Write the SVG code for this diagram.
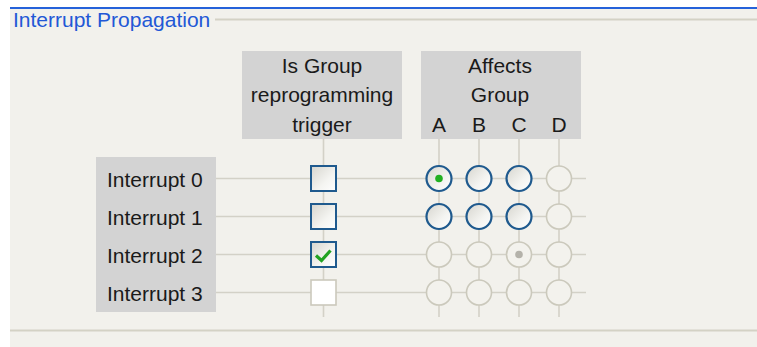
<svg xmlns="http://www.w3.org/2000/svg" width="757" height="347" viewBox="0 0 757 347">
  <style>
    text { font-family: "Liberation Sans", Arial, sans-serif; font-size: 21px; fill: #1a1a1a; }
    .title { fill: #2258d6; }
    .hdr { fill: #d3d3d3; }
    .wire { stroke: #d3d1c7; stroke-width: 1.6; fill: none; }
    .cb-on { fill: url(#gfill); stroke: #1f5a8e; stroke-width: 2; }
    .cb-off { fill: #ffffff; stroke: #cbc9bc; stroke-width: 1.6; }
    .rb-on { fill: url(#gfill); stroke: #1f5a8e; stroke-width: 2.2; }
    .rb-off { fill: #f3f2ed; stroke: #cbc9bc; stroke-width: 1.6; }
  </style>
  <defs>
    <linearGradient id="gfill" x1="0" y1="0" x2="1" y2="1">
      <stop offset="0" stop-color="#d6d5ce"/>
      <stop offset="0.6" stop-color="#f4f4f1"/>
      <stop offset="1" stop-color="#ffffff"/>
    </linearGradient>
  </defs>

  <!-- background -->
  <rect x="0" y="0" width="757" height="347" fill="#ffffff"/>
  <rect x="10" y="8" width="747" height="339" fill="#f2f1ec"/>
  <line x1="10" y1="8" x2="757" y2="8" stroke="#2562da" stroke-width="2"/>
  <line x1="215" y1="19.5" x2="757" y2="19.5" stroke="#d4d2c5" stroke-width="2"/>
  <line x1="10" y1="330.5" x2="757" y2="330.5" stroke="#d4d2c5" stroke-width="2"/>
  <text class="title" x="13" y="27">Interrupt Propagation</text>

  <!-- connectors -->
  <g id="connectors" class="wire">
    <line x1="216" y1="178.5" x2="586" y2="178.5"/>
    <line x1="216" y1="216.5" x2="586" y2="216.5"/>
    <line x1="216" y1="254.5" x2="586" y2="254.5"/>
    <line x1="216" y1="292.5" x2="586" y2="292.5"/>
    <line x1="323.5" y1="139" x2="323.5" y2="317"/>
    <line x1="439" y1="139" x2="439" y2="317"/>
    <line x1="479" y1="139" x2="479" y2="317"/>
    <line x1="519" y1="139" x2="519" y2="317"/>
    <line x1="559" y1="139" x2="559" y2="317"/>
  </g>

  <!-- headers -->
  <g id="header-trigger">
    <rect class="hdr" x="242" y="51" width="160" height="88"/>
    <text x="322" y="72.5" text-anchor="middle">Is Group</text>
    <text x="322" y="102" text-anchor="middle">reprogramming</text>
    <text x="322" y="132" text-anchor="middle">trigger</text>
  </g>
  <g id="header-affects">
    <rect class="hdr" x="421" y="51" width="160" height="88"/>
    <text x="500" y="72.5" text-anchor="middle">Affects</text>
    <text x="500" y="102" text-anchor="middle">Group</text>
    <text x="439" y="132" text-anchor="middle">A</text>
    <text x="479" y="132" text-anchor="middle">B</text>
    <text x="519" y="132" text-anchor="middle">C</text>
    <text x="559" y="132" text-anchor="middle">D</text>
  </g>

  <!-- row labels -->
  <g id="row-labels">
    <rect class="hdr" x="96" y="157" width="120" height="155"/>
    <text x="107" y="186.5">Interrupt 0</text>
    <text x="107" y="224.5">Interrupt 1</text>
    <text x="107" y="262.5">Interrupt 2</text>
    <text x="107" y="300.5">Interrupt 3</text>
  </g>

  <!-- checkboxes -->
  <g id="trigger-0"><rect class="cb-on" x="311" y="166" width="25" height="25"/></g>
  <g id="trigger-1"><rect class="cb-on" x="311" y="204" width="25" height="25"/></g>
  <g id="trigger-2">
    <rect class="cb-on" x="311" y="242" width="25" height="25"/>
    <polyline points="316,255.5 321.5,260.5 330.5,250.5" fill="none" stroke="#22a322" stroke-width="3.2" stroke-linejoin="miter"/>
  </g>
  <g id="trigger-3"><rect class="cb-off" x="311" y="280" width="25" height="25"/></g>

  <!-- radio row 0 -->
  <g id="r0-A"><circle class="rb-on" cx="439" cy="178.5" r="12.5"/><circle cx="439" cy="178.5" r="3.8" fill="#22b022"/></g>
  <g id="r0-B"><circle class="rb-on" cx="479" cy="178.5" r="12.5"/></g>
  <g id="r0-C"><circle class="rb-on" cx="519" cy="178.5" r="12.5"/></g>
  <g id="r0-D"><circle class="rb-off" cx="559" cy="178.5" r="12.5"/></g>
  <!-- radio row 1 -->
  <g id="r1-A"><circle class="rb-on" cx="439" cy="216.5" r="12.5"/></g>
  <g id="r1-B"><circle class="rb-on" cx="479" cy="216.5" r="12.5"/></g>
  <g id="r1-C"><circle class="rb-on" cx="519" cy="216.5" r="12.5"/></g>
  <g id="r1-D"><circle class="rb-off" cx="559" cy="216.5" r="12.5"/></g>
  <!-- radio row 2 -->
  <g id="r2-A"><circle class="rb-off" cx="439" cy="254.5" r="12.5"/></g>
  <g id="r2-B"><circle class="rb-off" cx="479" cy="254.5" r="12.5"/></g>
  <g id="r2-C"><circle class="rb-off" cx="519" cy="254.5" r="12.5"/><circle cx="519" cy="254.5" r="3.8" fill="#b4b2aa"/></g>
  <g id="r2-D"><circle class="rb-off" cx="559" cy="254.5" r="12.5"/></g>
  <!-- radio row 3 -->
  <g id="r3-A"><circle class="rb-off" cx="439" cy="292.5" r="12.5"/></g>
  <g id="r3-B"><circle class="rb-off" cx="479" cy="292.5" r="12.5"/></g>
  <g id="r3-C"><circle class="rb-off" cx="519" cy="292.5" r="12.5"/></g>
  <g id="r3-D"><circle class="rb-off" cx="559" cy="292.5" r="12.5"/></g>
</svg>
